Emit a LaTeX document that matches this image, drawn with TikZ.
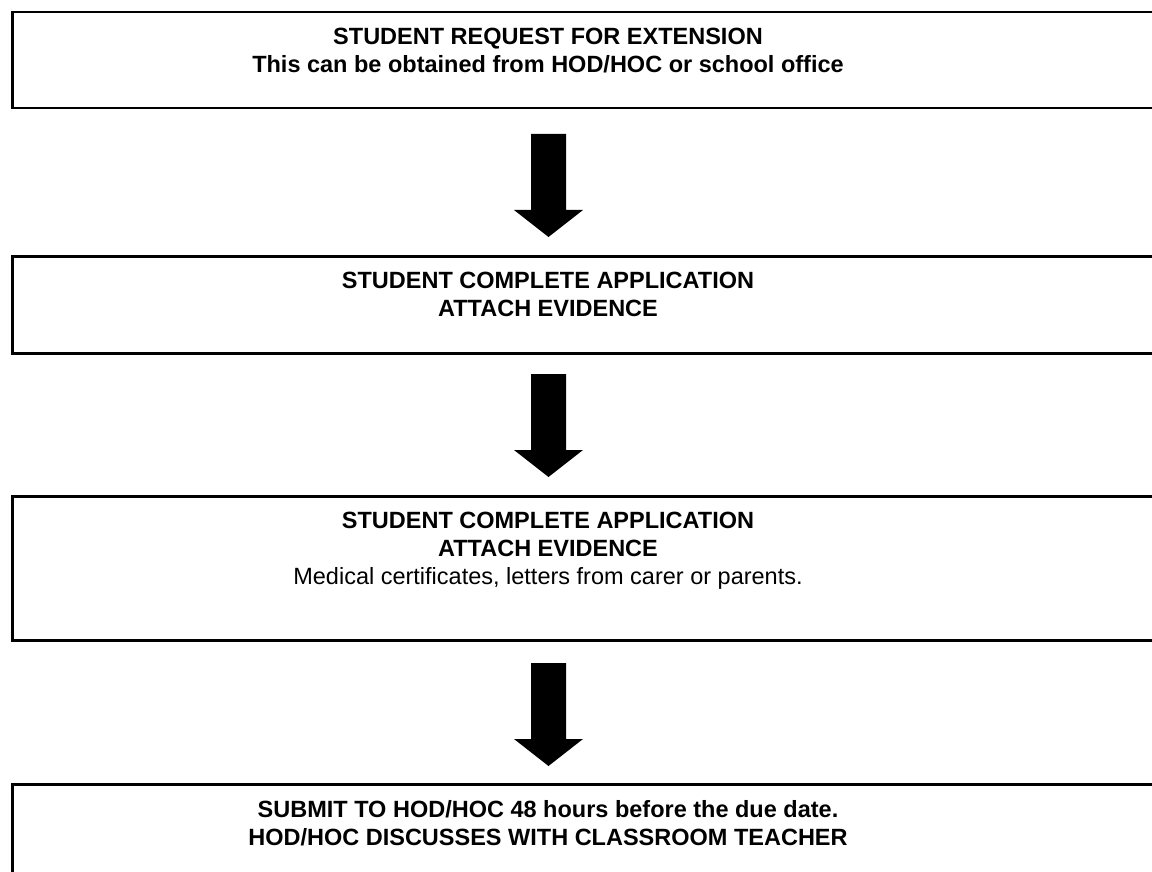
\documentclass[tikz,border=0pt]{standalone}
\usepackage{fontspec}
\setmainfont{Liberation Sans}
\begin{document}
\begin{tikzpicture}[x=1pt,y=-1pt,
  box/.style={draw=black,line width=2.5pt,minimum width=1160pt,anchor=north west,inner sep=0pt},
  txt/.style={anchor=north,align=center,inner sep=0pt,font=\fontsize{23.5}{28}\selectfont},
  blockarrow/.style={fill=black,draw=none}]
\useasboundingbox (0,0) rectangle (1152,872);
% boxes
\node[box,minimum height=96pt] (b1) at (11,11) {};
\node[box,minimum height=97pt] (b2) at (11,255) {};
\node[box,minimum height=144pt] (b3) at (11,495) {};
\node[box,minimum height=120pt] (b4) at (11,783) {};
% texts
\node[txt] (t1) at (548,28) {\bfseries STUDENT REQUEST FOR EXTENSION\\\bfseries This can be obtained from HOD/HOC or school office};
\node[txt] (t2) at (548,272) {\bfseries STUDENT COMPLETE APPLICATION\\\bfseries ATTACH EVIDENCE};
\node[txt] (t3) at (548,512) {\bfseries STUDENT COMPLETE APPLICATION\\\bfseries ATTACH EVIDENCE\\Medical certificates, letters from carer or parents.};
\node[txt] (t4) at (548,800) {\bfseries SUBMIT TO HOD/HOC 48 hours before the due date.\\\bfseries HOD/HOC DISCUSSES WITH CLASSROOM TEACHER};
% block arrows
\foreach \top/\name in {134/a1,374/a2,663/a3}{
  \coordinate (\name) at (548.5,\top);
  \fill[blockarrow] (\name) ++(-17.5,0) -- ++(35,0) -- ++(0,76) -- ++(17,0) -- ++(-34.5,27) -- ++(-34.5,-27) -- ++(17,0) -- cycle;
}
\end{tikzpicture}
\end{document}
